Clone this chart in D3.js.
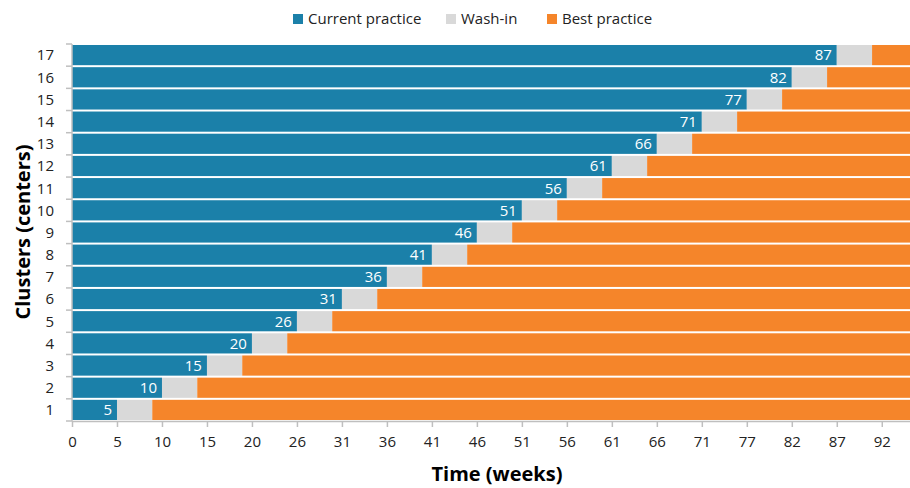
<!DOCTYPE html>
<html>
<head>
<meta charset="utf-8">
<script src="https://cdn.jsdelivr.net/npm/d3@7/dist/d3.min.js"></script>
<style>
  html, body { margin: 0; padding: 0; background: #fff; }
  svg { display: block; font-family: "Open Sans", "Noto Sans", sans-serif; }
</style>
</head>
<body>
<svg id="chart" width="910" height="488"></svg>
<script>
(function() {
    'use strict';

    // clusters, bottom (1) to top (17)
    var clusters = [1, 2, 3, 4, 5, 6, 7, 8, 9, 10, 11, 12, 13, 14, 15, 16, 17];
    // week the cluster leaves current practice
    var currentEnd = [5.1, 10.2, 15.3, 20.4, 25.5, 30.6, 35.7, 40.8, 45.9, 51.0, 56.1, 61.2, 66.3, 71.4, 76.5, 81.6, 86.7];
    // wash-in duration (weeks)
    var washIn = [4, 4, 4, 4, 4, 4, 4, 4, 4, 4, 4, 4, 4, 4, 4, 4, 4];
    var studyEnd = 95;
    var xTicks = [0, 5.1, 10.2, 15.3, 20.4, 25.5, 30.6, 35.7, 40.8, 45.9, 51.0, 56.1, 61.2, 66.3, 71.4, 76.5, 81.6, 86.7, 91.8];

    var seriesNames = ['Current practice', 'Wash-in', 'Best practice'];
    var colors = ['#1b80a9', '#d9d9d9', '#f5852a'];

    var svg = d3.select('#chart');
    var m = {left: 72, right: 910, top: 44, bottom: 421};

    var x = d3.scaleLinear().domain([0, studyEnd]).range([m.left, m.right]);
    var y = d3.scaleBand().domain(clusters).range([m.bottom, m.top]).paddingInner(0.09).paddingOuter(0.045);

    // segments per cluster
    var rows = clusters.map(function(c, i) {
        var a = currentEnd[i], b = a + washIn[i];
        return {
            cluster: c,
            segs: [
                {k: 0, x0: 0, x1: a},
                {k: 1, x0: a, x1: b},
                {k: 2, x0: b, x1: studyEnd}
            ],
            label: Math.round(a)
        };
    });

    var g = svg.append('g');
    var row = g.selectAll('g.row').data(rows).enter().append('g')
        .attr('class', 'row')
        .attr('transform', function(d) { return 'translate(0,' + y(d.cluster) + ')'; });

    row.selectAll('rect').data(function(d) { return d.segs; }).enter().append('rect')
        .attr('x', function(d) { return x(d.x0); })
        .attr('width', function(d) { return x(d.x1) - x(d.x0); })
        .attr('height', y.bandwidth())
        .attr('fill', function(d) { return colors[d.k]; });

    row.append('text')
        .attr('x', function(d, i) { return x(currentEnd[i]) - 5; })
        .attr('y', y.bandwidth() / 2)
        .attr('dy', '0.36em')
        .attr('text-anchor', 'end')
        .attr('fill', '#fff')
        .attr('font-size', '15px')
        .text(function(d) { return d.label; });

    // x axis
    var xAxis = d3.axisBottom(x).tickValues(xTicks).tickSize(6).tickSizeOuter(0)
        .tickFormat(function(d) { return Math.round(d); });
    var gx = svg.append('g').attr('transform', 'translate(0,' + m.bottom + ')').call(xAxis);
    gx.select('.domain').attr('stroke', '#bfbfbf').attr('stroke-width', 1.5);
    gx.selectAll('.tick line').attr('stroke', '#bfbfbf').attr('stroke-width', 1.5);
    gx.selectAll('.tick text').attr('font-size', '15px').attr('fill', '#222').attr('dy', '1.1em')
        .attr('font-family', '"Open Sans", "Noto Sans", sans-serif');

    // y axis: line plus ticks at band boundaries
    var ya = svg.append('g');
    ya.append('line').attr('x1', m.left).attr('x2', m.left).attr('y1', m.top).attr('y2', m.bottom)
        .attr('stroke', '#bfbfbf').attr('stroke-width', 1.5);
    var bounds = d3.range(clusters.length + 1).map(function(i) { return m.bottom - (m.bottom - m.top) * i / clusters.length; });
    ya.selectAll('line.t').data(bounds).enter().append('line')
        .attr('class', 't')
        .attr('x1', m.left - 6).attr('x2', m.left)
        .attr('y1', function(d) { return d; }).attr('y2', function(d) { return d; })
        .attr('stroke', '#bfbfbf').attr('stroke-width', 1.5);
    ya.selectAll('text').data(clusters).enter().append('text')
        .attr('x', m.left - 18)
        .attr('y', function(d) { return y(d) + y.bandwidth() / 2; })
        .attr('dy', '0.36em')
        .attr('text-anchor', 'end')
        .attr('font-size', '15px')
        .attr('fill', '#222')
        .text(function(d) { return d; });

    // axis titles
    svg.append('text')
        .attr('x', 497).attr('y', 481)
        .attr('text-anchor', 'middle')
        .attr('font-size', '20px').attr('font-weight', 'bold').attr('fill', '#000')
        .text('Time (weeks)');
    svg.append('text')
        .attr('transform', 'translate(30,232) rotate(-90)')
        .attr('text-anchor', 'middle')
        .attr('font-size', '20px').attr('font-weight', 'bold').attr('fill', '#000')
        .text('Clusters (centers)');

    // legend
    var legendX = [293, 446, 547];
    var lg = svg.append('g').selectAll('g').data(seriesNames).enter().append('g')
        .attr('transform', function(d, i) { return 'translate(' + legendX[i] + ',14)'; });
    lg.append('rect').attr('width', 10).attr('height', 10)
        .attr('fill', function(d, i) { return colors[i]; });
    lg.append('text').attr('x', 15).attr('y', 5).attr('dy', '0.36em')
        .attr('font-size', '15px').attr('fill', '#222')
        .text(function(d) { return d; });
})();
</script>
</body>
</html>
